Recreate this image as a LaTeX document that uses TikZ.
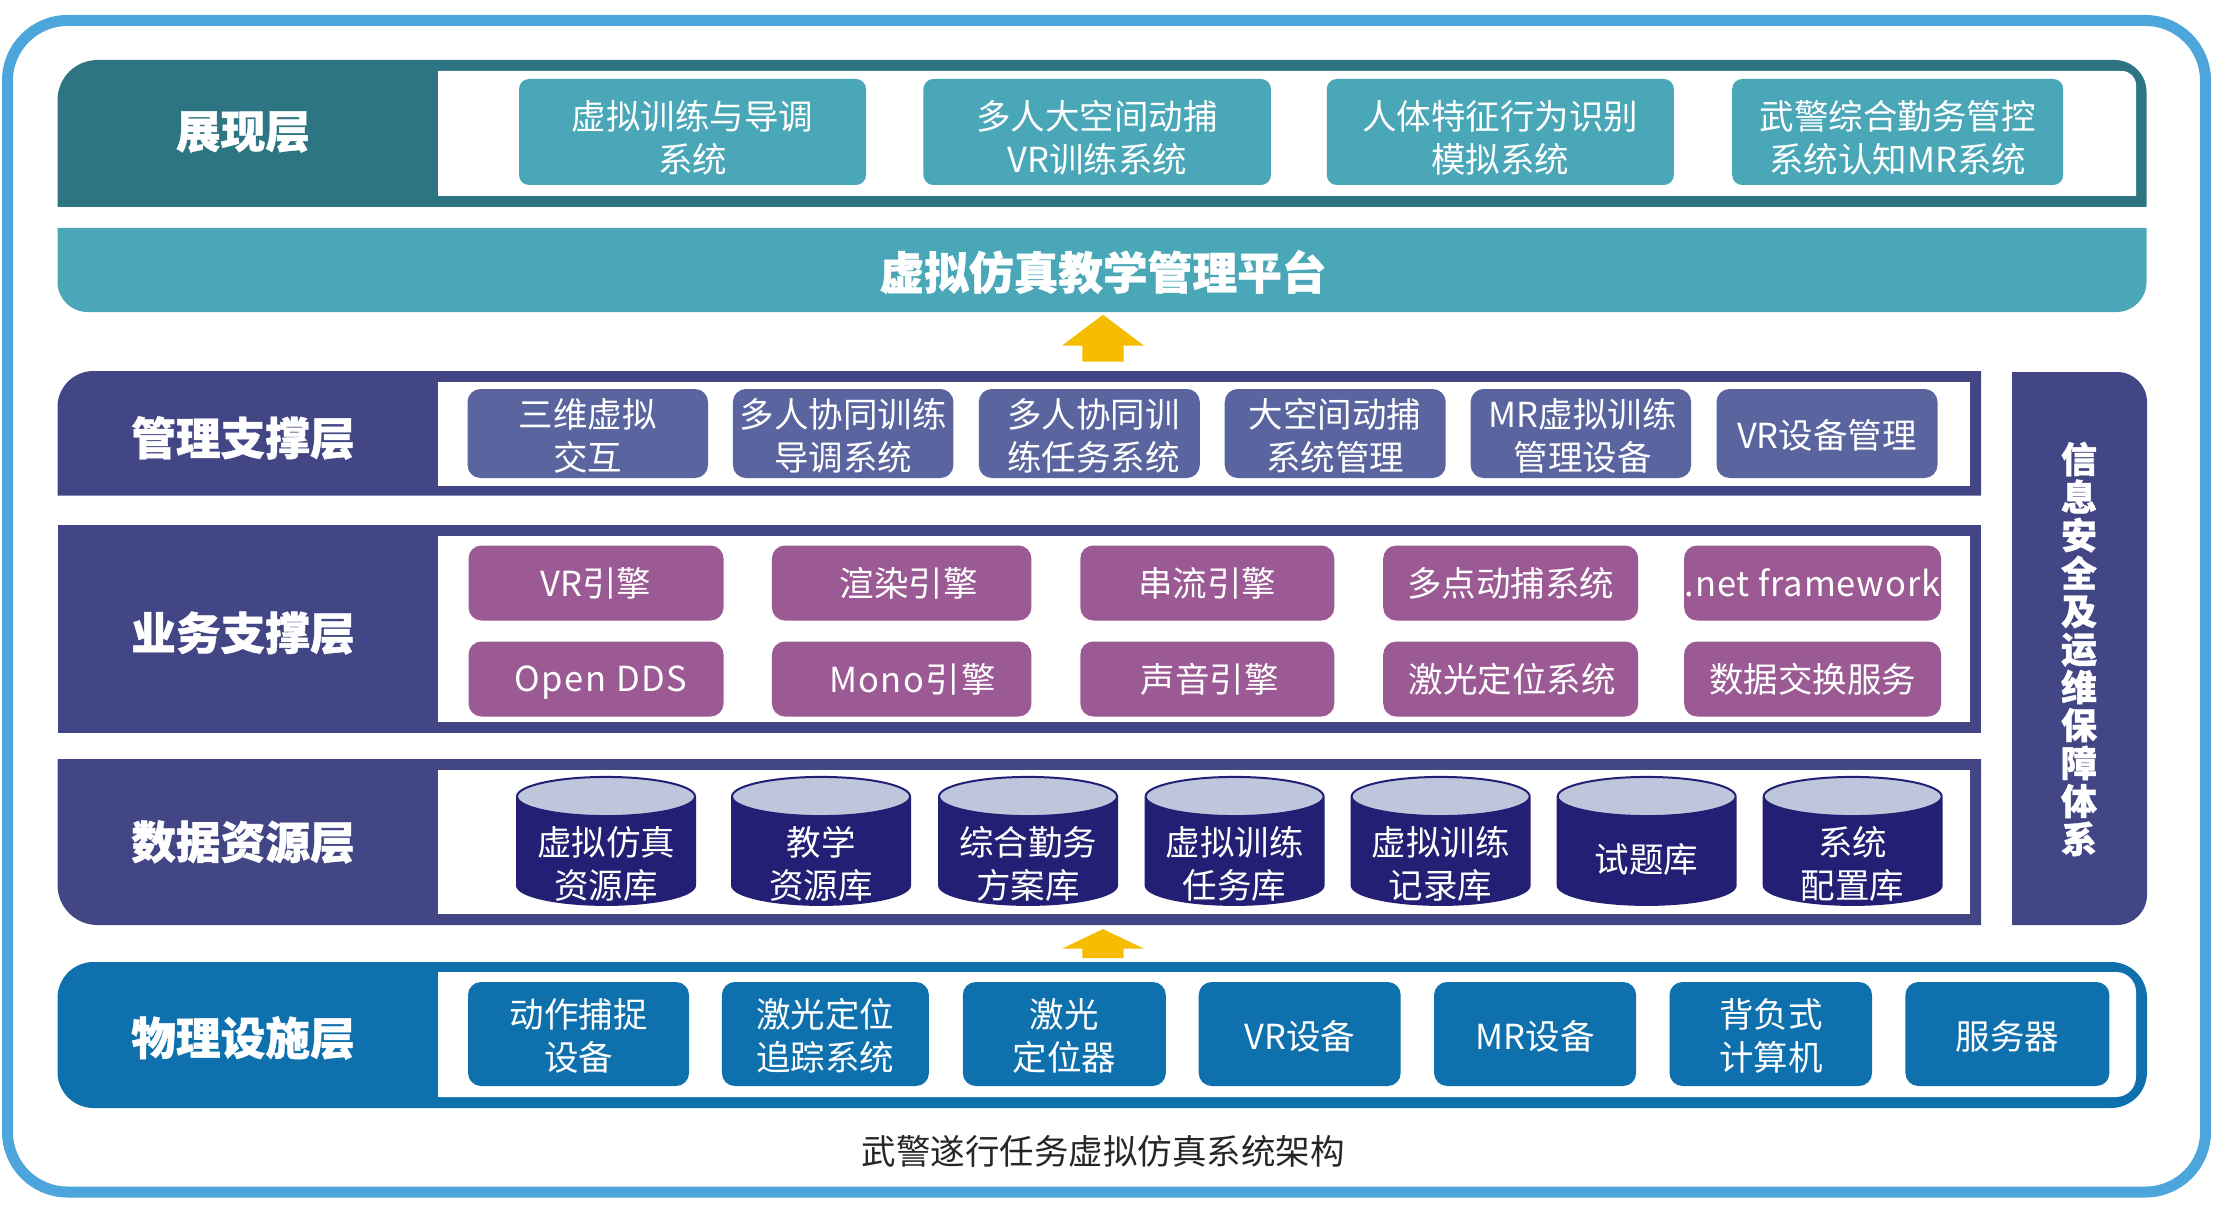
\documentclass[tikz,border=0pt]{standalone}
\usepackage{fontspec}
\setmainfont{Noto Sans CJK SC}
\usetikzlibrary{positioning,shapes.geometric,shapes.arrows}
\definecolor{framecol}{HTML}{4CA6DB}
\definecolor{showdark}{HTML}{2D7583}
\definecolor{showbox}{HTML}{49A7B7}
\definecolor{mandark}{HTML}{434685}
\definecolor{manbox}{HTML}{5A659F}
\definecolor{bizbox}{HTML}{9B5A93}
\definecolor{cyldark}{HTML}{221F74}
\definecolor{cyltop}{HTML}{BEC6DC}
\definecolor{phydark}{HTML}{0E71AE}
\definecolor{arrowcol}{HTML}{F6BC00}
\newcommand{\spaced}[1]{\addfontfeature{LetterSpace=#1}}
\newcommand{\lowa}{\rule{0pt}{40pt}}
\newcommand{\lowb}{\rule{0pt}{33pt}}
\tikzset{layer label/.style={text=white,font=\bfseries\addfontfeature{FakeBold=1}\fontsize{44.7}{44.7}\selectfont,inner sep=0pt},
            item box/.style={text=white,rounded corners=13pt,inner sep=0pt,align=center,font=\fontsize{34.5}{43}\selectfont},
            show box/.style={item box,rounded corners=10pt,fill=showbox,minimum height=106pt},
            man box/.style={item box,fill=manbox,minimum height=89pt},
            biz box/.style={item box,fill=bizbox,minimum height=75pt},
            phy box/.style={item box,fill=phydark,minimum height=104pt},
            store/.style={cylinder,shape border rotate=90,aspect=0.22,cylinder uses custom fill,cylinder body fill=cyldark,cylinder end fill=cyltop,
                draw=cyldark,line width=2pt,outer sep=0pt,inner xsep=89pt,inner ysep=0pt,minimum width=178pt,minimum height=128pt},
            store text/.style={text=white,inner sep=0pt,align=center,font=\fontsize{34.5}{43}\selectfont},
            up arrow/.style={single arrow,shape border rotate=90,fill=arrowcol,inner xsep=20pt,inner ysep=0pt,single arrow head indent=0pt,single arrow head extend=20pt},
            }

\begin{document}
\begin{tikzpicture}[x=1pt,y=-1pt]
    \useasboundingbox (0,0) rectangle (2214,1209);
    \draw[framecol,line width=11pt,rounded corners=60pt] (7.5,20.5) rectangle (2205.5,1192);

    % top band
    \fill[showdark] (57.5,207) [rounded corners=40pt] -- (57.5,60) [rounded corners=32pt] -- (2146.5,60) [sharp corners] -- (2146.5,207) -- cycle;
    \fill[white] (438,196) -- (438,71) [rounded corners=14pt] -- (2136,71) [sharp corners] -- (2136,196) -- cycle;
    \node[layer label] (show) at (243,132) {展现层};
    \node[show box,minimum width=347pt] (s1) at (692.5,132) {\lowa 虚拟训练与导调\\系统};
    \node[show box,minimum width=347.5pt] (s2) [right = 57pt of s1] {\lowa 多人大空间动捕\\VR训练系统};
    \node[show box,minimum width=347pt] (s3) [right = 55.5pt of s2] {\lowa 人体特征行为识别\\模拟系统};
    \node[show box,minimum width=331pt] (s4) [right = 58pt of s3] {\lowa 武警综合勤务管控\\系统认知MR系统};

    % platform
    \fill[showbox] (57.5,228) -- (2146.5,228) [rounded corners=30pt] -- (2146.5,312) -- (57.5,312) [sharp corners] -- cycle;
    \node[layer label] (plat) at (1103,272) {虚拟仿真教学管理平台};

    \node[up arrow,single arrow tip angle=106,minimum height=47pt,minimum width=82pt] (up1) at (1103,346) {};

    % manage band
    \fill[mandark] (57.5,495.5) [rounded corners=36pt] -- (57.5,371) [sharp corners] -- (1981,371) -- (1981,495.5) -- cycle;
    \fill[white] (438,382) rectangle (1970,485.5);
    \node[layer label] (man) at (243,438) {管理支撑层};
    \node[man box,minimum width=240.5pt] (m1) at (587.75,433.5) {\lowb 三维虚拟\\交互};
    \node[man box,minimum width=220.5pt] (m2) [right = 24.5pt of m1] {\lowb 多人协同训练\\导调系统};
    \node[man box,minimum width=221pt] (m3) [right = 25pt of m2] {\lowb\hspace*{8pt}多人协同训\\\hspace*{8pt}练任务系统};
    \node[man box,minimum width=221pt] (m4) [right = 24.5pt of m3] {\lowb 大空间动捕\\系统管理};
    \node[man box,minimum width=220.5pt] (m5) [right = 24.5pt of m4] {\lowb\hspace*{4pt}MR虚拟训练\\\hspace*{4pt}管理设备};
    \node[man box,minimum width=221pt] (m6) [right = 25pt of m5] {\lowb VR设备管理};

    % business band
    \fill[mandark] (57.5,525) rectangle (1981,733);
    \fill[white] (438,536) rectangle (1970,722);
    \node[layer label] (biz) at (243,633) {业务支撑层};
    \node[biz box,minimum width=255pt] (b1) at (596,583) {VR引擎};
    \node[biz box,minimum width=259.5pt] (b2) [right = 48pt of b1] {\hspace*{14pt}渲染引擎};
    \node[biz box,minimum width=254pt] (b3) [right = 48.5pt of b2] {串流引擎};
    \node[biz box,minimum width=255pt] (b4) [right = 48.5pt of b3] {多点动捕系统};
    \node[biz box,minimum width=257pt] (b5) [right = 45.5pt of b4] {\spaced{2.5}.net framework};
    \node[biz box,minimum width=255pt] (b6) at (596,679) {\hspace*{10pt}\rule{0pt}{33pt}\spaced{4.8}Open DDS};
    \node[biz box,minimum width=259.5pt] (b7) [right = 48pt of b6] {\hspace*{22pt}\spaced{4}Mono引擎};
    \node[biz box,minimum width=254pt] (b8) [right = 48.5pt of b7] {\hspace*{5pt}声音引擎};
    \node[biz box,minimum width=255pt] (b9) [right = 48.5pt of b8] {\hspace*{3pt}激光定位系统};
    \node[biz box,minimum width=257pt] (b10) [right = 45.5pt of b9] {数据交换服务};

    % data band
    \fill[mandark] (57.5,759) -- (1981,759) -- (1981,925) [rounded corners=40pt] -- (57.5,925) [sharp corners] -- cycle;
    \fill[white] (438,770) rectangle (1970,914);
    \node[layer label] (dat) at (243,842) {数据资源层};
    \node[store] (d1) at (606,861) {};
    \node[store] (d2) [right = 37pt of d1] {};
    \node[store] (d3) [right = 29pt of d2] {};
    \node[store] (d4) [right = 28.5pt of d3] {};
    \node[store] (d5) [right = 28pt of d4] {};
    \node[store] (d6) [right = 28pt of d5] {};
    \node[store] (d7) [right = 28pt of d6] {};
    \node[store text,yshift=-3pt] (t1) at (d1) {虚拟仿真\\资源库};
    \node[store text,yshift=-3pt] (t2) at (d2) {教学\\资源库};
    \node[store text,yshift=-3pt] (t3) at (d3) {综合勤务\\方案库};
    \node[store text,yshift=-3pt] (t4) at (d4) {虚拟训练\\任务库};
    \node[store text,yshift=-3pt] (t5) at (d5) {虚拟训练\\记录库};
    \node[store text,yshift=2pt] (t6) at (d6) {试题库};
    \node[store text,yshift=-3pt] (t7) at (d7) {系统\\配置库};

    % security side panel
    \fill[mandark] (2012,372) [rounded corners=30pt] -- (2147,372) -- (2147,925) [sharp corners] -- (2012,925) -- cycle;
    \node[layer label,align=center,font=\bfseries\addfontfeature{FakeBold=1}\fontsize{36}{38}\selectfont] (sec) at (2079,649)
        {信\\息\\安\\全\\及\\运\\维\\保\\障\\体\\系};

    \node[up arrow,single arrow tip angle=129,minimum height=29pt,minimum width=82pt] (up2) at (1103,948.5) {};

    % physical band
    \fill[phydark,rounded corners=36pt] (57.5,962) rectangle (2147,1108);
    \fill[white] (438,1097) -- (438,972) [rounded corners=20pt] -- (2136,972) -- (2136,1097) [sharp corners] -- cycle;
    \node[layer label] (phy) at (243,1038) {物理设施层};
    \node[phy box,minimum width=221pt] (p1) at (578.5,1034) {\lowb 动作捕捉\\设备};
    \node[phy box,minimum width=207pt] (p2) [right = 32.5pt of p1] {\lowb 激光定位\\追踪系统};
    \node[phy box,minimum width=203pt] (p3) [right = 33.5pt of p2] {\lowb 激光\\定位器};
    \node[phy box,minimum width=202pt] (p4) [right = 32.5pt of p3] {\lowb VR设备};
    \node[phy box,minimum width=202pt] (p5) [right = 33pt of p4] {\lowb MR设备};
    \node[phy box,minimum width=202.5pt] (p6) [right = 33pt of p5] {\lowb 背负式\\计算机};
    \node[phy box,minimum width=204pt] (p7) [right = 33pt of p6] {\lowb 服务器};

    \node[font=\fontsize{34.5}{34.5}\selectfont,text=black!85,inner sep=0pt] (cap) at (1103,1151) {武警遂行任务虚拟仿真系统架构};
\end{tikzpicture}
\end{document}
